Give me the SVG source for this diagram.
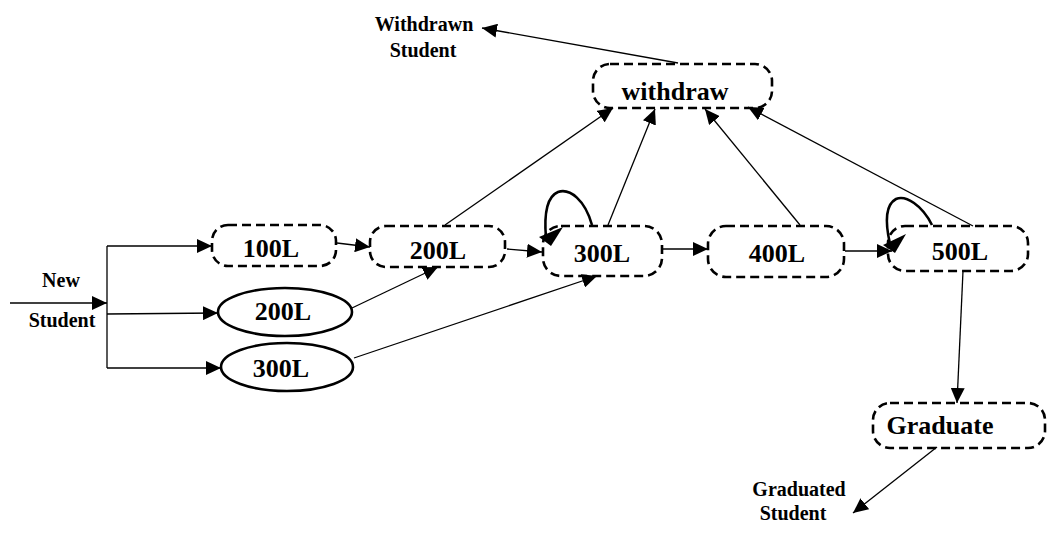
<svg xmlns="http://www.w3.org/2000/svg" width="1048" height="543" viewBox="0 0 1048 543">
<style>
.node{fill:none;stroke:#000;stroke-width:2.6;stroke-dasharray:9 5}
.ell{fill:none;stroke:#000;stroke-width:2.6}
.t{font-family:"Liberation Serif",serif;font-weight:bold;font-size:26px;text-anchor:middle;fill:#000}
.s{font-family:"Liberation Serif",serif;font-weight:bold;font-size:20px;text-anchor:middle;fill:#000}
.c{fill:none;stroke:#000;stroke-width:1.3}
.loop{fill:none;stroke:#000;stroke-width:2.6}
</style>
<defs>
<marker id="ah" viewBox="0 0 15 14" refX="15" refY="7" markerWidth="15" markerHeight="14" markerUnits="userSpaceOnUse" orient="auto">
<path d="M0,0 L15,7 L0,14 Z" fill="#000"/>
</marker>
</defs>
<rect width="1048" height="543" fill="#fff"/>
<g id="labels">
<text class="s" x="61" y="287">New</text>
<text class="s" x="62" y="327">Student</text>
<text class="s" x="424" y="31">Withdrawn</text>
<text class="s" x="423" y="57">Student</text>
<text class="s" x="799" y="496">Graduated</text>
<text class="s" x="793" y="520">Student</text>
</g>
<g id="withdraw"><rect class="node" x="593" y="64" width="179" height="44" rx="17"/><text class="t" x="675" y="100">withdraw</text></g>
<g id="n100L"><rect class="node" x="212" y="225" width="124" height="41" rx="16"/><text class="t" x="271" y="257">100L</text></g>
<g id="n200L"><rect class="node" x="370" y="226" width="135" height="41" rx="16"/><text class="t" x="438" y="259">200L</text></g>
<g id="n300L"><rect class="node" x="543" y="226" width="119" height="50" rx="18"/><text class="t" x="602" y="262">300L</text></g>
<g id="n400L"><rect class="node" x="708" y="226" width="136" height="51" rx="18"/><text class="t" x="777" y="262">400L</text></g>
<g id="n500L"><rect class="node" x="888" y="226" width="140" height="45" rx="17"/><text class="t" x="960" y="260">500L</text></g>
<g id="graduate"><rect class="node" x="873" y="403" width="172" height="45" rx="17"/><text class="t" x="940" y="434">Graduate</text></g>
<g id="e200L"><ellipse class="ell" cx="285" cy="312" rx="67" ry="24"/><text class="t" x="283" y="320">200L</text></g>
<g id="e300L"><ellipse class="ell" cx="287" cy="367" rx="66" ry="24"/><text class="t" x="281" y="377">300L</text></g>
<g id="connectors">
<line class="c" x1="10" y1="303" x2="107" y2="303" marker-end="url(#ah)"/>
<line class="c" x1="107" y1="246" x2="107" y2="368"/>
<line class="c" x1="107" y1="246" x2="212" y2="246" marker-end="url(#ah)"/>
<line class="c" x1="107" y1="314" x2="218" y2="313" marker-end="url(#ah)"/>
<line class="c" x1="107" y1="368" x2="221" y2="368" marker-end="url(#ah)"/>
<line class="c" x1="337" y1="243" x2="370" y2="247" marker-end="url(#ah)"/>
<line class="c" x1="507" y1="249" x2="542" y2="252" marker-end="url(#ah)"/>
<line class="c" x1="663" y1="249" x2="708" y2="249" marker-end="url(#ah)"/>
<line class="c" x1="845" y1="251" x2="892" y2="251" marker-end="url(#ah)"/>
<line class="c" x1="352" y1="308" x2="438" y2="267" marker-end="url(#ah)"/>
<line class="c" x1="354" y1="358" x2="597" y2="276" marker-end="url(#ah)"/>
<line class="c" x1="445" y1="225" x2="613" y2="108" marker-end="url(#ah)"/>
<line class="c" x1="608" y1="225" x2="655" y2="109" marker-end="url(#ah)"/>
<line class="c" x1="800" y1="225" x2="705" y2="109" marker-end="url(#ah)"/>
<line class="c" x1="973" y1="226" x2="748" y2="107" marker-end="url(#ah)"/>
<line class="c" x1="678" y1="63" x2="482" y2="28" marker-end="url(#ah)"/>
<line class="c" x1="963" y1="271" x2="957" y2="403" marker-end="url(#ah)"/>
<line class="c" x1="937" y1="447" x2="853" y2="513" marker-end="url(#ah)"/>
<path class="loop" d="M592,225 C585,200 570,188 558,192 C546,197 544,215 546,238"/>
<polygon points="563,227 539,237 551,246" fill="#000"/>
<path class="loop" d="M932,225 C922,205 906,195 896,199 C885,205 885,222 890,244"/>
<polygon points="906,234 883,245 895,253" fill="#000"/>
</g>
</svg>
